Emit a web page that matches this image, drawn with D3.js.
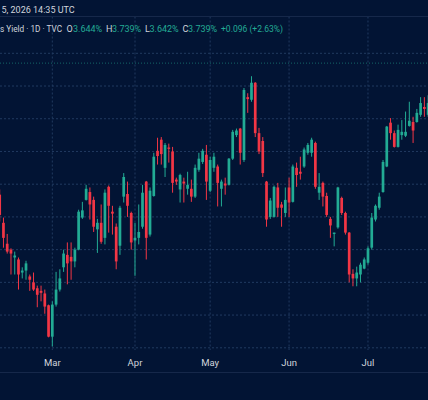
<!DOCTYPE html>
<html>
<head>
<meta charset="utf-8">
<script src="https://cdn.jsdelivr.net/npm/d3@7"></script>
<style>
  html, body { margin: 0; padding: 0; background: #021434; }
  svg { display: block; }
</style>
</head>
<body>
<div id="grafico"></div>
<script>
// velas diarias (rendimiento, %)
const opens = [3.534,3.491,3.459,3.450,3.438,3.435,3.415,3.418,3.409,3.400,3.391,3.387,3.383,3.365,3.317,3.366,3.389,3.423,3.442,3.439,
  3.432,3.450,3.499,3.526,3.538,3.526,3.481,3.491,3.468,3.546,3.508,3.485,3.456,3.531,3.535,3.506,3.464,3.468,3.485,3.554,
  3.473,3.532,3.601,3.618,3.575,3.606,3.600,3.557,3.542,3.554,3.543,3.543,3.531,3.572,3.584,3.595,3.540,3.575,3.577,3.543,
  3.551,3.549,3.589,3.625,3.635,3.587,3.683,3.679,3.705,3.628,3.616,3.554,3.500,3.500,3.545,3.519,3.506,3.545,3.523,3.575,
  3.569,3.577,3.598,3.598,3.613,3.537,3.552,3.532,3.497,3.474,3.484,3.529,3.506,3.476,3.413,3.406,3.412,3.421,3.430,3.453,
  3.496,3.514,3.538,3.577,3.644,3.628,3.607,3.625,3.624,3.639,3.645,3.645,3.656,3.668,3.656];
const highs = [3.542,3.499,3.474,3.452,3.447,3.438,3.423,3.433,3.412,3.415,3.395,3.395,3.389,3.366,3.371,3.416,3.420,3.450,3.461,3.461,
  3.453,3.511,3.523,3.549,3.545,3.531,3.497,3.519,3.542,3.548,3.517,3.490,3.517,3.567,3.554,3.508,3.491,3.519,3.549,3.555,
  3.545,3.598,3.621,3.622,3.613,3.612,3.607,3.560,3.566,3.560,3.569,3.557,3.580,3.598,3.604,3.610,3.592,3.598,3.580,3.557,
  3.560,3.590,3.633,3.635,3.636,3.697,3.689,3.715,3.706,3.636,3.622,3.555,3.529,3.548,3.552,3.523,3.545,3.560,3.580,3.583,
  3.592,3.606,3.613,3.621,3.615,3.567,3.554,3.537,3.500,3.476,3.546,3.531,3.508,3.477,3.420,3.424,3.430,3.438,3.455,3.506,
  3.519,3.537,3.587,3.639,3.651,3.632,3.641,3.648,3.661,3.676,3.653,3.665,3.683,3.683,3.686];
const lows = [3.493,3.453,3.444,3.412,3.412,3.389,3.406,3.404,3.387,3.387,3.362,3.371,3.352,3.316,3.302,3.363,3.386,3.416,3.397,3.404,
  3.423,3.449,3.497,3.525,3.496,3.477,3.445,3.459,3.458,3.476,3.473,3.420,3.442,3.522,3.500,3.450,3.410,3.458,3.482,3.435,
  3.470,3.531,3.580,3.580,3.561,3.583,3.537,3.549,3.522,3.522,3.534,3.523,3.529,3.569,3.581,3.526,3.538,3.569,3.516,3.516,
  3.534,3.548,3.587,3.622,3.580,3.584,3.659,3.676,3.622,3.596,3.561,3.485,3.497,3.499,3.500,3.485,3.500,3.500,3.522,3.546,
  3.557,3.575,3.595,3.592,3.543,3.526,3.516,3.500,3.468,3.455,3.482,3.503,3.473,3.400,3.394,3.394,3.400,3.420,3.427,3.450,
  3.493,3.511,3.537,3.576,3.618,3.606,3.606,3.618,3.622,3.638,3.613,3.644,3.653,3.653,3.653];
const closes = [3.503,3.468,3.447,3.444,3.441,3.412,3.418,3.429,3.404,3.389,3.381,3.384,3.363,3.317,3.366,3.389,3.406,3.444,3.429,3.432,
  3.450,3.508,3.510,3.543,3.519,3.485,3.491,3.462,3.537,3.517,3.505,3.432,3.514,3.561,3.517,3.461,3.468,3.477,3.537,3.468,
  3.540,3.592,3.593,3.596,3.610,3.604,3.552,3.554,3.564,3.551,3.549,3.531,3.575,3.589,3.601,3.554,3.587,3.592,3.552,3.554,
  3.548,3.589,3.630,3.632,3.598,3.694,3.680,3.705,3.628,3.600,3.567,3.496,3.525,3.546,3.514,3.514,3.526,3.522,3.577,3.564,
  3.566,3.603,3.610,3.618,3.546,3.546,3.531,3.503,3.487,3.476,3.545,3.506,3.476,3.412,3.406,3.415,3.427,3.435,3.452,3.499,
  3.517,3.531,3.584,3.638,3.628,3.607,3.633,3.630,3.630,3.647,3.632,3.659,3.674,3.665,3.674];

// marcas de mes (índice de la primera vela del mes)
const monthLabels = ["Mar", "Apr", "May", "Jun", "Jul"];
const monthIndex = [14, 36, 56, 77, 98];

// niveles de la grilla horizontal
const gridLevels = [3.30, 3.35, 3.40, 3.45, 3.50, 3.55, 3.60, 3.65, 3.70, 3.75];
const priceLine = 3.735;

// encabezado
const headerDate = "5, 2026 14:35 UTC";
const headerTitle = "s Yield · 1D · TVC";
const ohlcKeys = ["O", "H", "L", "C"];
const ohlcValues = ["3.644%", "3.739%", "3.642%", "3.739%"];
const changeText = "+0.096 (+2.63%)";

const WIDTH = 428;
const HEIGHT = 400;
const BG = "#021434";
const GRID = "#213a60";
const UP = "#22ab94";
const DOWN = "#f23645";
const TEXT = "#d1d4dc";
const FONT = "Roboto, 'Liberation Sans', sans-serif";

const PANE_TOP = 16.5;
const PANE_BOTTOM = 350;
const AXIS_LINE = 372.5;

const SVG = d3.select("#grafico").append("svg")
  .attr("width", WIDTH).attr("height", HEIGHT);

SVG.append("rect").attr("width", WIDTH).attr("height", HEIGHT).attr("fill", BG);

const n = opens.length;
const BAR_STEP = 3.758;
var escalaX = d3.scaleLinear()
  .domain([0, n - 1])
  .range([-0.3, -0.3 + BAR_STEP * (n - 1)]);
var escalaY = d3.scaleLinear()
  .domain([3.30, 3.75])
  .range([347.8, 53.3]);

// grilla
var grilla = SVG.append("g");
grilla.selectAll(".h")
  .data(gridLevels)
  .enter().append("line")
  .attr("x1", 0).attr("x2", WIDTH)
  .attr("y1", d => escalaY(d)).attr("y2", d => escalaY(d))
  .attr("stroke", GRID).attr("stroke-dasharray", "2,2");

grilla.selectAll(".v")
  .data(monthIndex)
  .enter().append("line")
  .attr("x1", d => escalaX(d)).attr("x2", d => escalaX(d))
  .attr("y1", PANE_TOP).attr("y2", PANE_BOTTOM)
  .attr("stroke", GRID).attr("stroke-dasharray", "2,2");

SVG.append("line")
  .attr("x1", 0).attr("x2", WIDTH).attr("y1", PANE_TOP).attr("y2", PANE_TOP)
  .attr("stroke", "#16284a");
SVG.append("line")
  .attr("x1", 0).attr("x2", WIDTH).attr("y1", AXIS_LINE).attr("y2", AXIS_LINE)
  .attr("stroke", "#16284a");

// línea de último precio
SVG.append("line")
  .attr("x1", 0).attr("x2", WIDTH)
  .attr("y1", escalaY(priceLine)).attr("y2", escalaY(priceLine))
  .attr("stroke", UP).attr("stroke-opacity", 0.55)
  .attr("stroke-dasharray", "1,2");

// velas
var velas = d3.range(n).map(i => ({ i: i, o: opens[i], h: highs[i], l: lows[i], c: closes[i] }));
var bodyW = BAR_STEP * 0.72;

var g = SVG.append("g");
g.selectAll(".wick")
  .data(velas)
  .enter().append("rect")
  .attr("x", d => escalaX(d.i) - 0.5)
  .attr("width", 1)
  .attr("y", d => escalaY(d.h))
  .attr("height", d => escalaY(d.l) - escalaY(d.h))
  .attr("fill", d => d.c >= d.o ? UP : DOWN);

g.selectAll(".body")
  .data(velas)
  .enter().append("rect")
  .attr("x", d => escalaX(d.i) - bodyW / 2)
  .attr("width", bodyW)
  .attr("y", d => escalaY(Math.max(d.o, d.c)))
  .attr("height", d => Math.max(1, Math.abs(escalaY(d.o) - escalaY(d.c))))
  .attr("fill", d => d.c >= d.o ? UP : DOWN);

// eje de tiempo
SVG.append("g").selectAll("text")
  .data(monthIndex)
  .enter().append("text")
  .attr("x", d => escalaX(d))
  .attr("y", 365.5)
  .attr("text-anchor", "middle")
  .attr("font-family", FONT)
  .attr("font-size", 9.5)
  .attr("fill", TEXT)
  .text((d, i) => monthLabels[i]);

// encabezado
SVG.append("text")
  .attr("x", 1.5).attr("y", 13)
  .attr("font-family", FONT).attr("font-size", 9)
  .attr("fill", TEXT)
  .text(headerDate);

var leyenda = SVG.append("g")
  .attr("font-family", FONT).attr("font-size", 9);
leyenda.append("text").attr("x", 0).attr("y", 32).attr("fill", TEXT)
  .attr("textLength", 62).attr("lengthAdjust", "spacingAndGlyphs")
  .text(headerTitle);

const keyX = [66.5, 106, 145, 182.5];
const valX = [73, 112, 149.5, 188];
ohlcKeys.forEach(function(k, i) {
  leyenda.append("text").attr("x", keyX[i]).attr("y", 32).attr("fill", TEXT).text(k);
  leyenda.append("text").attr("x", valX[i]).attr("y", 32).attr("fill", UP).text(ohlcValues[i]);
});
leyenda.append("text").attr("x", 221).attr("y", 32).attr("fill", UP)
  .attr("textLength", 62).attr("lengthAdjust", "spacingAndGlyphs")
  .text(changeText);
</script>
</body>
</html>
